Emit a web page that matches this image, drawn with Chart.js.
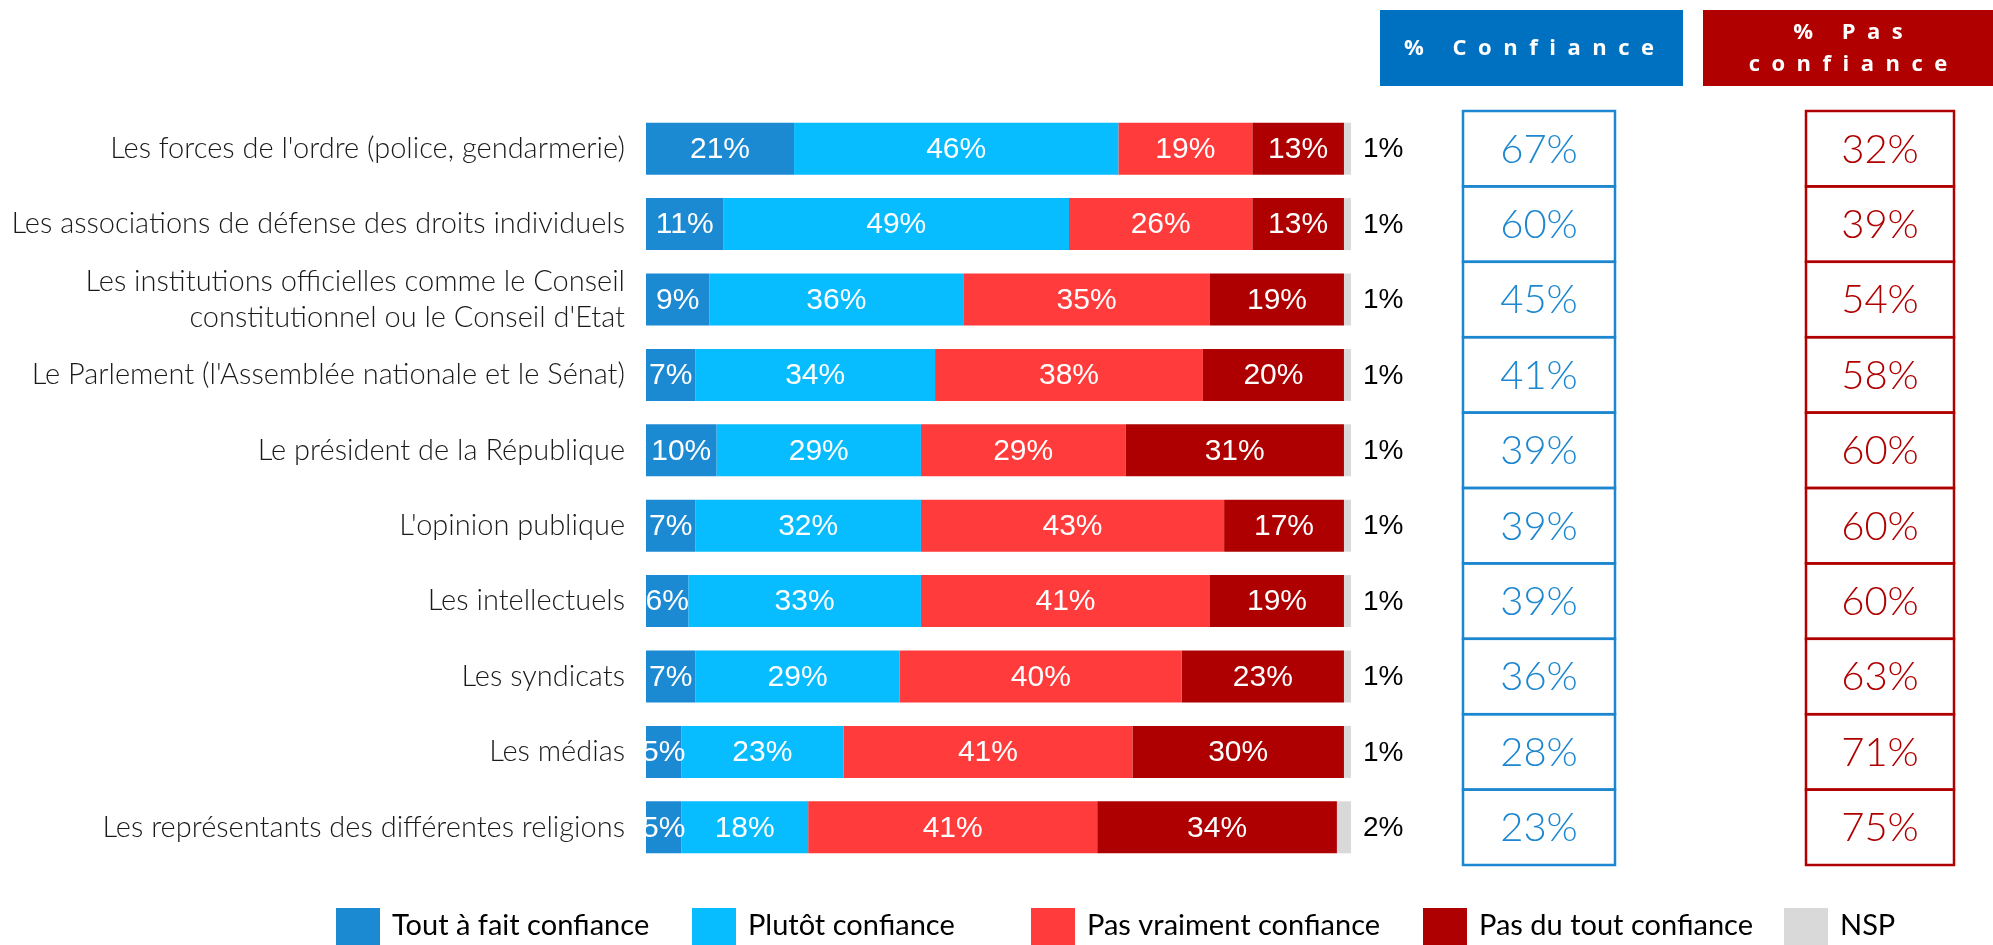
<!DOCTYPE html>
<html lang="fr">
<head>
<meta charset="utf-8">
<title>Confiance dans les institutions</title>
<script src="https://cdn.jsdelivr.net/npm/chart.js@4.4.1/dist/chart.umd.min.js"></script>
<style>
  html, body { margin: 0; padding: 0; background: #ffffff; }
  canvas { display: block; }
</style>
</head>
<body>
<canvas id="chart" width="1993" height="945"></canvas>
<script>
// Data
const categories = [
    "Les forces de l'ordre (police, gendarmerie)",
    "Les associations de défense des droits individuels",
    ["Les institutions officielles comme le Conseil", "constitutionnel ou le Conseil d'Etat"],
    "Le Parlement (l'Assemblée nationale et le Sénat)",
    "Le président de la République",
    "L'opinion publique",
    "Les intellectuels",
    "Les syndicats",
    "Les médias",
    "Les représentants des différentes religions"
];
const seriesNames = ["Tout à fait confiance", "Plutôt confiance", "Pas vraiment confiance", "Pas du tout confiance", "NSP"];
const toutAFait   = [21, 11, 9, 7, 10, 7, 6, 7, 5, 5];
const plutot      = [46, 49, 36, 34, 29, 32, 33, 29, 23, 18];
const pasVraiment = [19, 26, 35, 38, 29, 43, 41, 40, 41, 41];
const pasDuTout   = [13, 13, 19, 20, 31, 17, 19, 23, 30, 34];
const nsp         = [1, 1, 1, 1, 1, 1, 1, 1, 1, 2];
const confiance    = [67, 60, 45, 41, 39, 39, 39, 36, 28, 23];
const pasConfiance = [32, 39, 54, 58, 60, 60, 60, 63, 71, 75];
const headerConfiance = ["% Confiance"];
const headerPasConfiance = ["% Pas", "confiance"];

const colors = ["#1b8ad3", "#08bdff", "#ff3b3b", "#ae0000", "#d9d9d9"];
const BLUE = "#0070c0";
const BOX_BLUE = "#1c87d0";
const RED = "#b00000";
const LABEL_FONT = "Lato, 'Open Sans', sans-serif";

function pct(v) { return v + "%"; }

// Draws text with extra spacing between characters, centred on x
function spacedText(ctx, text, x, y, spacing) {
    const chars = [...text];
    const widths = chars.map(c => ctx.measureText(c).width);
    const total = widths.reduce((a, b) => a + b, 0) + spacing * (chars.length - 1);
    let cx = x - total / 2;
    ctx.textAlign = "left";
    chars.forEach((c, i) => {
        ctx.fillText(c, cx, y);
        cx += widths[i] + spacing;
    });
}

// Percentages inside the bars, NSP value on the right
const barLabels = {
    id: "barLabels",
    afterDatasetsDraw(chart) {
        const { ctx, chartArea } = chart;
        ctx.save();
        ctx.textBaseline = "middle";
        chart.data.datasets.forEach((ds, di) => {
            const meta = chart.getDatasetMeta(di);
            meta.data.forEach((bar, i) => {
                const v = ds.data[i];
                if (di < 4) {
                    ctx.save();
                    ctx.beginPath();
                    ctx.rect(chartArea.left, chartArea.top, chartArea.right - chartArea.left, chartArea.bottom - chartArea.top);
                    ctx.clip();
                    ctx.font = "30px 'Liberation Sans', Arial, sans-serif";
                    ctx.fillStyle = "#ffffff";
                    ctx.textAlign = "center";
                    ctx.fillText(pct(v), (bar.x + bar.base) / 2, bar.y + 1);
                    ctx.restore();
                } else {
                    ctx.font = "28px 'Liberation Sans', Arial, sans-serif";
                    ctx.fillStyle = "#000000";
                    ctx.textAlign = "left";
                    ctx.fillText(pct(v), chart.scales.x.getPixelForValue(100) + 12, bar.y + 1);
                }
            });
        });
        ctx.restore();
    }
};

// The two summary columns with their headers
const summaryColumns = {
    id: "summaryColumns",
    afterDraw(chart) {
        const { ctx } = chart;
        const y = chart.scales.y;
        const half = (y.getPixelForValue(1) - y.getPixelForValue(0)) / 2;
        const cols = [
            { left: 1463, right: 1615, values: confiance, color: BOX_BLUE },
            { left: 1806, right: 1954, values: pasConfiance, color: RED }
        ];
        ctx.save();
        cols.forEach(col => {
            ctx.strokeStyle = col.color;
            ctx.lineWidth = 2.5;
            col.values.forEach((v, i) => {
                const cy = y.getPixelForValue(i);
                ctx.strokeRect(col.left, cy - half, col.right - col.left, half * 2);
                ctx.fillStyle = col.color;
                ctx.font = "300 40px " + LABEL_FONT;
                ctx.textAlign = "center";
                ctx.textBaseline = "middle";
                ctx.fillText(pct(v), (col.left + col.right) / 2, cy + 1);
            });
        });

        // headers
        ctx.fillStyle = BLUE;
        ctx.fillRect(1380, 10, 303, 76);
        ctx.fillStyle = RED;
        ctx.fillRect(1703, 10, 290, 76);
        ctx.fillStyle = "#ffffff";
        ctx.font = "bold 22px 'Open Sans', sans-serif";
        ctx.textBaseline = "middle";
        spacedText(ctx, headerConfiance[0], 1529, 49, 11.5);
        spacedText(ctx, headerPasConfiance[0], 1848, 33, 11.5);
        spacedText(ctx, headerPasConfiance[1], 1848, 65, 11.5);
        ctx.restore();
    }
};

// Legend laid out in fixed slots along the bottom
const slotLegend = {
    id: "slotLegend",
    afterDraw(chart, args, opts) {
        const { ctx } = chart;
        ctx.save();
        chart.data.datasets.forEach((ds, i) => {
            const x = opts.slots[i];
            ctx.fillStyle = ds.backgroundColor;
            ctx.fillRect(x, 908, 44, 37);
            ctx.fillStyle = "#000000";
            ctx.font = "29px " + LABEL_FONT;
            ctx.textAlign = "left";
            ctx.textBaseline = "alphabetic";
            ctx.fillText(ds.label, x + 56, 935);
        });
        ctx.restore();
    }
};

const seriesData = [toutAFait, plutot, pasVraiment, pasDuTout, nsp];

new Chart(document.getElementById("chart"), {
    type: "bar",
    data: {
        labels: categories,
        datasets: seriesNames.map((name, i) => ({
            label: name,
            data: seriesData[i],
            backgroundColor: colors[i],
            borderWidth: 0,
            barPercentage: 0.69,
            categoryPercentage: 1
        }))
    },
    options: {
        indexAxis: "y",
        responsive: false,
        animation: false,
        devicePixelRatio: 1,
        layout: { padding: { top: 111, bottom: 80, left: 0, right: 642 } },
        scales: {
            x: {
                stacked: true,
                min: 0,
                max: 100,
                display: false
            },
            y: {
                stacked: true,
                grid: { display: false, drawTicks: false },
                border: { display: false },
                afterFit(scale) { scale.width = 646; },
                ticks: {
                    autoSkip: false,
                    padding: 21,
                    color: "#1a1a1a",
                    font: { family: LABEL_FONT, size: 29, weight: 300, lineHeight: 1.24 }
                }
            }
        },
        plugins: {
            legend: { display: false },
            tooltip: { enabled: false },
            slotLegend: { slots: [336, 692, 1031, 1423, 1784] }
        }
    },
    plugins: [barLabels, summaryColumns, slotLegend]
});
</script>
</body>
</html>
